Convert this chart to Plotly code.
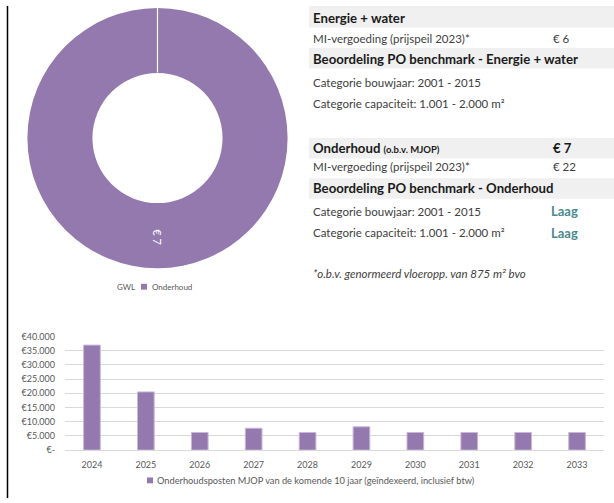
import plotly.graph_objects as go

W, H = 614, 503

# ---- data ----
pie_labels = ["GWL", "Onderhoud"]
pie_values = [0, 7]

years = ["2024", "2025", "2026", "2027", "2028", "2029", "2030", "2031", "2032", "2033"]
costs = [37000, 20500, 6200, 7700, 6200, 8200, 6200, 6200, 6200, 6200]
ytick_vals = [0, 5000, 10000, 15000, 20000, 25000, 30000, 35000, 40000]
ytick_text = ["€-", "€5.000", "€10.000", "€15.000", "€20.000", "€25.000", "€30.000", "€35.000", "€40.000"]
bar_series_name = "Onderhoudsposten MJOP van de komende 10 jaar (geïndexeerd, inclusief btw)"

PURPLE = "#9479ae"
FONT = "Lato"


def px(x):
    return x / W


def py(y):
    return 1 - y / H


fig = go.Figure()

# donut
fig.add_trace(go.Pie(
    labels=pie_labels, values=pie_values, hole=0.5, sort=False,
    direction="clockwise", rotation=0,
    marker=dict(colors=["rgba(0,0,0,0)", PURPLE], line=dict(color="white", width=0)),
    textinfo="none", hoverinfo="label+value", showlegend=False,
    domain=dict(x=[px(25), px(290)], y=[py(268), py(2)]),
))

# bar chart
fig.add_trace(go.Bar(
    x=years, y=costs, name=bar_series_name,
    marker=dict(color=PURPLE, line=dict(color="#c8b8da", width=1)),
    width=0.31, showlegend=False,
))

fig.update_layout(
    width=W, height=H, margin=dict(l=0, r=0, t=0, b=0),
    paper_bgcolor="white", plot_bgcolor="white",
    font=dict(family=FONT, color="#404040", size=11),
    xaxis=dict(domain=[px(65), px(604)], showgrid=False, showline=False, ticks="",
               tickfont=dict(size=9, color="#595959"), anchor="y", ticklabelstandoff=8),
    yaxis=dict(domain=[py(454), py(338)], range=[0, 40000], tickvals=ytick_vals, ticktext=ytick_text,
               gridcolor="#d9d9d9", gridwidth=1, zeroline=True, zerolinecolor="#d9d9d9", zerolinewidth=1,
               tickfont=dict(size=9, color="#595959"), ticks="", anchor="x", ticklabelstandoff=9),
    showlegend=False,
    bargap=0.69,
)

shapes = []
# left border
shapes.append(dict(type="line", xref="paper", yref="paper", x0=px(7.5), x1=px(7.5), y0=0, y1=1,
                   line=dict(color="black", width=1.5)))
# white slice boundary at 12 o'clock
shapes.append(dict(type="line", xref="paper", yref="paper", x0=px(157.5), x1=px(157.5), y0=py(68), y1=py(2),
                   line=dict(color="white", width=1.2)))
# gray header bands
for (y0, y1) in [(0, 22), (43, 64), (135, 156), (176, 197)]:
    shapes.append(dict(type="rect", xref="paper", yref="paper", x0=px(309), x1=1, y0=py(y1), y1=py(y0),
                       fillcolor="#f0f0f0", line=dict(width=0), layer="below"))
# pie legend marker
shapes.append(dict(type="rect", xref="paper", yref="paper", x0=px(141), x1=px(147), y0=py(290), y1=py(284),
                   fillcolor=PURPLE, line=dict(width=0)))
# bar legend marker
shapes.append(dict(type="rect", xref="paper", yref="paper", x0=px(147), x1=px(153), y0=py(488), y1=py(482),
                   fillcolor=PURPLE, line=dict(width=0)))
fig.update_layout(shapes=shapes)

ann = []


def txt(x, y, s, size=11.5, color="#404040", anchor="left", **kw):
    ann.append(dict(x=px(x), y=py(y), xref="paper", yref="paper", text=s, showarrow=False,
                    xanchor=anchor, yanchor="middle", font=dict(size=size, color=color, family=FONT), **kw))


HEAD = "#1a1a1a"
BS = 13.2
txt(311, 12, "<b>Energie + water</b>", BS, HEAD)
txt(311, 33, "MI-vergoeding (prijspeil 2023)*")
txt(551, 33, "€ 6")
txt(311, 54, "<b>Beoordeling PO benchmark - Energie + water</b>", BS, HEAD)
txt(311, 78, "Categorie bouwjaar: 2001 - 2015")
txt(311, 100, "Categorie capaciteit: 1.001 - 2.000 m²")
txt(311, 145, "<b>Onderhoud <span style='font-size:9.5px'>(o.b.v. MJOP)</span></b>", BS, HEAD)
txt(551, 145, "<b>€ 7</b>", BS, HEAD)
txt(311, 164, "MI-vergoeding (prijspeil 2023)*")
txt(551, 164, "€ 22")
txt(311, 186, "<b>Beoordeling PO benchmark - Onderhoud</b>", BS, HEAD)
txt(311, 210, "Categorie bouwjaar: 2001 - 2015")
txt(549, 210, "<b>Laag</b>", 13, "#4a8a90")
txt(311, 232, "Categorie capaciteit: 1.001 - 2.000 m²")
txt(549, 232, "<b>Laag</b>", 13, "#4a8a90")
txt(311, 273, "<i>*o.b.v. genormeerd vloeropp. van 875 m² bvo</i>", 11.5)
# pie slice label
txt(157.5, 236, "€ 7", 11, "white", anchor="center", textangle=90)
# pie legend
txt(115, 287, pie_labels[0], 8, "#595959")
txt(150, 287, pie_labels[1], 8, "#595959")
# bar legend
txt(155, 485, bar_series_name, 9.25, "#595959")
fig.update_layout(annotations=ann)

fig.write_html("out.html", config={"displayModeBar": False},
               post_script="document.body.style.margin='0';document.body.style.padding='0';")
